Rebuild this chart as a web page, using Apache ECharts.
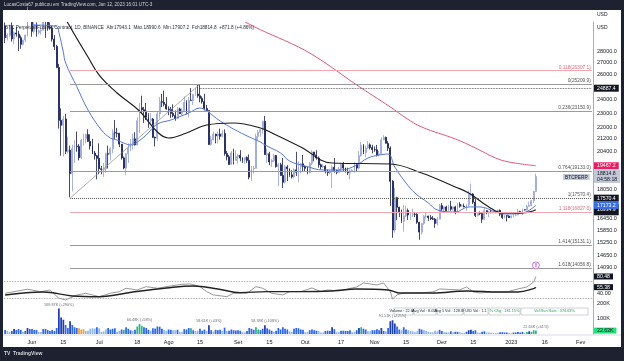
<!DOCTYPE html>
<html><head><meta charset="utf-8">
<script src="https://cdn.jsdelivr.net/npm/echarts@6/dist/echarts.min.js"></script>
<style>html,body{margin:0;padding:0;background:#1d2130}#c{width:624px;height:361px}</style>
</head><body><div id="c"></div>
<script>
// ---------- categories (daily, 2022-05-20 .. 2023-02-06) ----------
const dates = [];
(function(){const t0=Date.UTC(2022,4,20);for(let i=0;i<263;i++){dates.push(new Date(t0+i*864e5).toISOString().slice(0,10));}})();

// ---------- price candles [open, high, low, close] ----------
const ohlcMay = [[30300,30650,28700,29200],[29200,29600,28950,29430],[29430,30450,29250,30280],[30280,30650,28850,29100],[29100,29800,28600,29650],[29650,30200,29300,29540],[29540,29850,28000,29200],[29200,29400,28200,28600],[28600,29000,28500,29000],[29000,29500,28800,29450],[29450,32200,29300,31700],[31700,32400,31200,31800]];
const ohlcJun = [[31800,31950,29300,29800],[29800,30650,29600,30450],[30450,30650,29300,29700],[29700,29950,29500,29850],[29850,30150,29500,29900],[29900,31750,29900,31350],[31350,31550,29200,31100],[31100,31300,29850,30200],[30200,30650,29950,30100],[30100,30350,28850,29070],[29070,29450,28100,28400],[28400,28550,26550,26570],[26570,26880,21900,22480],[22480,23350,20100,22130],[22130,22800,20050,22580],[22580,22950,20200,20380],[20380,21350,20250,20450],[20450,20750,17620,18990],[18990,20800,17950,20550],[20550,21100,19650,20720],[20720,21700,20350,20700],[20700,20850,19800,19970],[19970,21200,19900,21100],[21100,21550,20750,21230],[21230,21550,20900,21500],[21500,21850,21000,21030],[21030,21500,20500,20730],[20730,21200,20200,20270],[20270,20400,19850,20100],[20100,20150,18650,19930]];
const ohlcJul = [[19930,20900,18950,19290],[19290,19450,18950,19240],[19240,19650,18800,19300],[19300,20300,19050,20230],[20230,20750,19300,20190],[20190,20650,19800,20550],[20550,21850,20250,21620],[21620,22500,21200,21590],[21590,21950,21300,21580],[21580,21600,20650,20850],[20850,20850,19850,19960],[19960,20050,19250,19330],[19330,20250,18900,20220],[20220,20900,19650,20580],[20580,21200,20400,20830],[20830,21550,20500,21200],[21200,21650,20750,20800],[20800,22700,20750,22450],[22450,23750,21600,23400],[23400,24300,23000,23250],[23250,23450,22300,23150],[23150,23750,22500,22700],[22700,23000,21950,22450],[22450,23000,22300,22580],[22580,22650,21250,21300],[21300,21350,20700,21250],[21250,23100,21050,22950],[22950,24200,22600,23850],[23850,24450,23450,23800],[23800,24700,23500,23650],[23650,24200,23250,23300]];
const ohlcAug = [[23300,23500,22850,23270],[23270,23450,22650,22980],[22980,23650,22700,22820],[22820,23200,22450,22620],[22620,23450,22600,23310],[23310,23400,22950,22960],[22960,23350,22850,23170],[23170,24250,23150,23810],[23810,23950,22900,23150],[23150,24200,22700,23950],[23950,24900,23900,23930],[23930,24450,23600,24400],[24400,24900,24300,24440],[24440,25210,24150,24300],[24300,25200,23800,24100],[24100,24250,23700,23850],[23850,24450,23200,23340],[23340,23600,23100,23190],[23190,23200,20800,20830],[20830,21400,20750,21140],[21140,21700,21100,21520],[21520,21550,20900,21400],[21400,21700,20900,21530],[21530,21900,21150,21370],[21370,21800,21300,21560],[21560,21850,20100,20240],[20240,20400,19800,20030],[20030,20150,19550,19550],[19550,20400,19550,20280],[20280,20550,19550,19800],[19800,20450,19800,20050]];
const ohlcSep = [[20050,20200,19600,20130],[20130,20450,19750,19950],[19950,20000,19650,19830],[19830,20000,19600,19990],[19990,20050,19650,19800],[19800,20180,18650,18780],[18780,19450,18550,19290],[19290,19450,19000,19310],[19310,21550,19300,21360],[21360,21800,21100,21650],[21650,21800,21350,21830],[21830,22450,21550,22400],[22400,22800,20150,20170],[20170,20550,19650,20220],[20220,20350,19500,19700],[19700,19900,19400,19800],[19800,20200,19700,20110],[20110,20150,19350,19420],[19420,19650,18250,19530],[19530,19650,18900,18880],[18880,19950,18150,18480],[18480,19500,18400,19400],[19400,19500,18550,19290],[19290,19300,18800,18920],[18920,19200,18700,18800],[18800,19300,18700,19220],[19220,20350,18850,19080],[19080,19750,18500,19410],[19410,19650,19000,19590],[19590,20150,19150,19420]];
const ohlcOct = [[19420,19480,19150,19310],[19310,19400,18950,19050],[19050,19700,19000,19620],[19620,20450,19500,20330],[20330,20350,19750,20150],[20150,20450,19850,19950],[19950,20050,19350,19530],[19530,19600,19250,19410],[19410,19550,19320,19440],[19440,19500,19000,19130],[19130,19250,18850,19050],[19050,19200,18950,19150],[19150,19500,18150,19380],[19380,19950,19050,19180],[19180,19230,18950,19070],[19070,19400,19050,19260],[19260,19650,19150,19550],[19550,19700,19100,19330],[19330,19350,19050,19120],[19120,19350,18900,19040],[19040,19250,18650,19160],[19160,19250,19100,19200],[19200,19700,19050,19570],[19570,19600,19150,19330],[19330,20400,19250,20090],[20090,21000,20050,20770],[20770,20850,20200,20300],[20300,20750,20000,20600],[20600,21050,20550,20800],[20800,20900,20500,20630],[20630,20800,20250,20490]];
const ohlcNov = [[20490,20700,20350,20480],[20480,20800,20050,20150],[20150,20400,20050,20200],[20200,21300,20200,21140],[21140,21450,21100,21300],[21300,21350,20900,20900],[20900,21050,20400,20590],[20590,20700,17150,18540],[18540,18600,15500,15880],[15880,18150,15750,17600],[17600,17650,16400,17070],[17070,17100,16550,16800],[16800,16950,16250,16330],[16330,17200,15800,16610],[16610,17150,16550,16900],[16900,17000,16400,16660],[16660,16750,16400,16690],[16690,17000,16550,16700],[16700,16800,16550,16690],[16690,16750,16200,16280],[16280,16300,15400,15780],[15780,16250,15650,16220],[16220,16650,16150,16600],[16600,16800,16450,16600],[16600,16620,16350,16520],[16520,16650,16400,16460],[16460,16600,16400,16440],[16440,16500,16000,16220],[16220,16550,16100,16440],[16440,17250,16430,17160]];
const ohlcDec = [[17160,17300,16850,16980],[16980,17100,16800,17090],[17090,17150,16850,16890],[16890,17200,16880,17110],[17110,17420,16880,16970],[16970,17100,16900,17090],[17090,17150,16700,16840],[16840,17300,16750,17230],[17230,17350,17050,17130],[17130,17230,17100,17130],[17130,17270,17070,17090],[17090,17250,16880,17210],[17210,18000,17080,17780],[17780,18400,17650,17800],[17800,17850,17250,17350],[17350,17550,16550,16630],[16630,16800,16580,16780],[16780,16850,16650,16740],[16740,16820,16250,16440],[16440,17050,16400,16890],[16890,16900,16700,16820],[16820,16870,16550,16820],[16820,16950,16750,16780],[16780,16860,16760,16830],[16830,16870,16730,16830],[16830,16950,16770,16910],[16910,16950,16600,16700],[16700,16780,16450,16530],[16530,16650,16480,16620],[16620,16650,16320,16600],[16600,16650,16500,16520]];
const ohlcJan = [[16520,16630,16480,16610],[16610,16780,16540,16660],[16660,16750,16600,16660],[16660,16980,16650,16840],[16840,16880,16730,16820],[16820,17000,16650,16940],[16940,16960,16900,16930],[16930,17200,16900,17120],[17120,17380,17100,17170],[17170,17480,17130,17430],[17430,17990,17300,17940],[17943.1,18990.6,17907.2,18814.8]];

// ---------- moving averages [date, value] ----------
const ma20 = [['2022-06-01',30400],['2022-06-09',30350],['2022-06-12',30240],['2022-06-13',29700],['2022-06-15',27900],['2022-06-16',26960],['2022-06-21',25007],['2022-06-26',23229],['2022-07-02',21803],['2022-07-06',21258],['2022-07-09',21123],['2022-07-12',20924],['2022-07-15',20792],['2022-07-18',20990],['2022-07-22',21459],['2022-07-27',22220],['2022-08-02',22504],['2022-08-10',23010],['2022-08-15',23375],['2022-08-18',23156],['2022-08-24',22434],['2022-08-30',21870],['2022-09-06',21325],['2022-09-11',20990],['2022-09-13',20792],['2022-09-20',20272],['2022-09-24',19765],['2022-10-01',19455],['2022-10-09',19210],['2022-10-17',19210],['2022-10-24',19516],['2022-10-29',19953],['2022-11-03',20140],['2022-11-07',20206],['2022-11-10',19393],['2022-11-15',18435],['2022-11-19',17859],['2022-11-25',17305],['2022-11-29',16923],['2022-12-07',16817],['2022-12-13',17089],['2022-12-18',17089],['2022-12-25',16817],['2022-12-29',16711],['2023-01-06',16764],['2023-01-12',17173.2]];
const ma50 = [['2022-06-15',31480],['2022-06-17',30600],['2022-06-26',27473],['2022-07-01',25950],['2022-07-09',24515],['2022-07-19',23156],['2022-07-27',21666],['2022-08-01',21258],['2022-08-09',21597],['2022-08-18',22150],['2022-08-30',22290],['2022-09-11',21941],['2022-09-18',21459],['2022-09-29',20661],['2022-10-13',19640],['2022-11-08',19578],['2022-11-22',19029],['2022-12-07',18205],['2022-12-13',17859],['2022-12-22',17089],['2022-12-28',16764],['2023-01-06',16764],['2023-01-12',16934.9]];
const ma200 = [['2022-08-25',32300],['2022-09-05',30600],['2022-09-28',28356],['2022-10-08',27212],['2022-10-24',25143],['2022-11-08',23451],['2022-11-15',22646],['2022-11-22',22010],['2022-12-07',21192],['2022-12-16',20597],['2022-12-25',19953],['2022-12-31',19702],['2023-01-12',19467.2]];

// ---------- RSI pane ----------
const rsi = [['2022-05-20',41],['2022-05-30',50.5],['2022-06-05',44.8],['2022-06-09',48.8],['2022-06-13',29.3],['2022-06-16',25.3],['2022-06-21',37],['2022-06-25',41],['2022-07-01',33],['2022-07-06',41],['2022-07-10',44.8],['2022-07-13',52.8],['2022-07-18',48.8],['2022-07-22',56.6],['2022-07-27',52.8],['2022-08-02',58.2],['2022-08-07',62.2],['2022-08-11',62.9],['2022-08-15',56.6],['2022-08-18',44.8],['2022-08-21',37.1],['2022-08-27',33],['2022-08-30',41],['2022-09-05',41],['2022-09-09',56.6],['2022-09-12',52.8],['2022-09-16',41],['2022-09-21',37.1],['2022-09-24',44.8],['2022-09-29',44.8],['2022-10-04',53.5],['2022-10-08',44.8],['2022-10-11',48.8],['2022-10-16',46.5],['2022-10-24',55.9],['2022-10-27',65.3],['2022-11-02',60.6],['2022-11-05',65.3],['2022-11-08',44.1],['2022-11-09',27.6],['2022-11-11',37.1],['2022-11-14',41.8],['2022-11-21',41.8],['2022-11-27',44.1],['2022-11-30',51.2],['2022-12-09',48.8],['2022-12-12',55.9],['2022-12-15',44.1],['2022-12-18',41.8],['2022-12-24',44.1],['2022-12-30',44.1],['2023-01-04',51.2],['2023-01-08',55.9],['2023-01-11',67.6],['2023-01-12',80.48]];
const rsiMa = [['2022-05-20',37.1],['2022-06-06',44.1],['2022-06-19',34.7],['2022-07-01',33],['2022-07-16',44.1],['2022-07-31',53.5],['2022-08-12',58.2],['2022-08-23',51.2],['2022-09-02',42.5],['2022-09-14',44.8],['2022-09-29',44.8],['2022-10-13',46.5],['2022-10-24',51],['2022-11-07',48.8],['2022-11-12',41.8],['2022-11-27',41.8],['2022-12-12',46.5],['2022-12-27',44.1],['2023-01-04',44.1],['2023-01-11',52],['2023-01-12',55.38]];

// ---------- volume (K) ----------
const volMay = [27,20,13,20,33,27,33,27,13,20,40,33];
const volJun = [33,27,27,13,13,33,33,27,20,27,20,40,169.87,110,95,60,40,85,60,45,40,38,30,32,20,22,35,38,36,45];
const volJul = [38,15,18,32,40,30,35,38,15,20,30,28,45,35,25,22,28,50,66.48,55,45,40,28,22,38,36,50,48,35,25,22];
const volAug = [30,28,25,25,28,12,15,32,30,40,38,25,20,22,35,22,30,20,58.61,25,18,28,25,28,20,42,20,22,30,25,24];
const volSep = [25,22,12,12,20,40,35,28,45,30,25,35,58.38,38,30,22,15,22,40,30,45,35,30,18,15,35,40,38,30,28];
const volOct = [12,14,25,30,25,22,20,10,10,20,22,20,45,32,12,12,22,22,20,20,25,12,15,25,40,45,35,30,18,18,25];
const volNov = [25,32,25,40,20,18,40,85,91.51,70,50,30,25,45,30,25,20,18,12,18,35,30,25,20,15,12,10,22,18,28];
const volDec = [20,12,10,10,18,12,15,15,12,8,8,15,25,28,20,25,10,8,15,18,10,10,8,5,6,8,12,12,10,10,6];
const volJan = [5,10,10,14,10,14,6,14,18,14,25,22.63];
const greenDays = ['2022-07-12','2022-07-18','2022-07-19','2022-07-20','2022-08-11','2022-09-09','2022-09-10','2022-10-26','2022-12-03','2023-01-08','2023-01-10','2023-01-11','2023-01-12'];
const orangeDays = ['2022-06-22','2022-06-23','2022-06-24'];
const volNotes = [['2022-06-13',169.87,'169.87K (+290%)'],['2022-07-19',66.48,'66.48K (+58%)'],['2022-08-19',58.61,'58.61K (+43%)'],['2022-09-13',58.38,'58.38K (+108%)'],['2022-11-09',91.51,'91.51K (+225%)'],['2023-01-12',22.63,'22.63K (+61%)']];

// ---------- fib retracement ----------
const fibStart = '2022-06-18', fibEnd = '2022-08-15';
const fibRatios = ['0.118','0','0.236','0.764','1','1.118','1.414','1.618'];
const fibPrices = [26307.1,25209.9,23150.9,19133.0,17570.4,16827.6,15131.1,14056.8];
const hiLine = 24887.4;

// ---------- axis ticks / boxes ----------
const priceTicks = [28000,27000,26000,24000,23000,22000,21200,20400,18050,16450,15850,15250,14650,14090];
const priceBoxes = [24887.4,19467.2,18814.8,17570.4,16934.9,17173.2];
const rsiBoxes = [80.48,55.38];
const tickDates = ['2022-06-01','2022-06-15','2022-07-01','2022-07-18','2022-08-01','2022-08-15','2022-09-01','2022-09-15','2022-10-01','2022-10-17','2022-11-01','2022-11-15','2022-12-01','2022-12-15','2023-01-01','2023-01-16','2023-02-01'];
const tickTexts = ['Jun','15','Jul','18','Ago','15','Set','15','Out','17','Nov','15','Dez','15','2023','16','Fev'];
const tableCells = ['Volume : 22.63K','Avg Vol : 8.05K','Avg 5 Vol : 128.8K','U/D Vol : 1.1','% Chg : 181.15%','Vol Run Rate : 374.63%'];

// ================= build =================
const ohlc = [].concat(ohlcMay,ohlcJun,ohlcJul,ohlcAug,ohlcSep,ohlcOct,ohlcNov,ohlcDec,ohlcJan);
const vols = [].concat(volMay,volJun,volJul,volAug,volSep,volOct,volNov,volDec,volJan);
const FONT = 'Liberation Sans';
const lastDate = dates[dates.length-1];
const HIDDEN = {width:0, color:'rgba(0,0,0,0)'};

const candleData = ohlc.map(r=>[r[0],r[3],r[2],r[1]]);
const volData = vols.map((v,i)=>{
  const d = dates[i];
  let c;
  if (greenDays.indexOf(d)>=0) c = '#2bb58a';
  else if (orangeDays.indexOf(d)>=0) c = '#f0a030';
  else {
    let s=0,n=0; for(let k=Math.max(0,i-20);k<i;k++){s+=vols[k];n++;}
    const avg = n? s/n : v;
    c = v>avg*1.6 ? '#1f3fb0' : (v>avg*0.75 ? '#2f67e6' : '#8fb6f2');
  }
  return {value:v, itemStyle:{color:c}};
});

const fibColor = r => (r==='0.118'||r==='1.118') ? '#f2a7b0' : (r==='1' ? '#555' : '#9a9a9a');
const fibLabelColor = r => (r==='0.118'||r==='1.118') ? '#e36d7f' : '#555';
const fibLines = fibRatios.map((r,k)=>[
  {coord:[fibStart,fibPrices[k]], lineStyle:{color:fibColor(r), width:1, type: r==='1'?'dotted':'solid'},
   label:{show:true, position:'insideEndTop', distance:1, formatter:r+'('+fibPrices[k].toFixed(1)+')', color:fibLabelColor(r), fontSize:4.8, fontFamily:FONT}},
  {coord:[lastDate,fibPrices[k]]}
]);
fibLines.push([{coord:[fibStart,fibPrices[4]], lineStyle:{color:'#8a8a8a', width:0.7, type:'solid'}, label:{show:false}},{coord:[fibEnd,fibPrices[1]]}]);
fibLines.push([{coord:[fibEnd,hiLine], lineStyle:{color:'#444', width:0.8, type:'dotted'}, label:{show:false}},{coord:[lastDate,hiLine]}]);

const boxStyle = [['#131722','#fff'],['#e91e63','#fff'],['#c2c8d8','#131722'],['#131722','#fff'],['#131722','#fff'],['#3a6ee8','#fff']];
const boxLines = priceBoxes.map((v,k)=>({
  yAxis:v, lineStyle:HIDDEN,
  label:{show:true, position:'end', distance:1,
    formatter: k===2 ? v.toFixed(1)+'\n04:58:18' : v.toFixed(1),
    backgroundColor:boxStyle[k][0], color:boxStyle[k][1], padding: k===4?[5,3,0,3]:[1,3,0,3],
    fontSize:5.2, fontFamily:FONT, lineHeight:6}
}));

const lab = {fontSize:5.5, color:'#131722', fontFamily:FONT};
const option = {
  backgroundColor:'#1d2130',
  animation:false,
  graphic:[
    {type:'rect', shape:{x:3,y:10,width:618,height:337}, style:{fill:'#ffffff'}, z:-10, silent:true},
    {type:'rect', shape:{x:3,y:10,width:590,height:12}, style:{fill:'#ffffff'}, z:45, silent:true},
    {type:'text', x:4, y:2.5, style:{text:'LucasCosta67 publicou em TradingView.com, Jan 12, 2023 16:01 UTC-3', fill:'#d1d4dc', font:'4.6px '+FONT}},
    {type:'text', x:5, y:25.5, z:50, style:{text:'BTC Perpetual Futures Contract, 1D, BINANCE  Abr17943.1  Máx.18990.6  Mín.17907.2  Fch18814.8  +871.8 (+4.86%)', fill:'#2a2e39', font:'4.7px '+FONT}},
    {type:'text', x:597, y:12, style:{text:'USD', fill:'#131722', font:'5px '+FONT}},
    {type:'text', x:597, y:25, style:{text:'USD', fill:'#131722', font:'5px '+FONT}},
    {type:'text', x:563, y:174, z:60, style:{text:'BTCPERP', fill:'#131722', font:'4.8px '+FONT, backgroundColor:'#c2c8d8', padding:[1,2,0,2]}},
    {type:'text', x:13, y:351.5, style:{text:'TradingView', fill:'#d1d4dc', font:'bold 5px '+FONT}},
    {type:'text', x:4, y:351.5, style:{text:'TV', fill:'#d1d4dc', font:'bold 5px '+FONT}},
    {type:'line', shape:{x1:3,y1:335,x2:621,y2:335}, style:{stroke:'#d0d3da', lineWidth:0.8}, silent:true}
  ].concat(tableCells.map((t,k)=>{
      const xs=[394,414,437,464,489,521,589];
      return {type:'group', z:40, children:[
        {type:'rect', shape:{x:xs[k],y:308,width:xs[k+1]-xs[k]-1,height:7}, style:{fill:'#fff', stroke:'#9aa0ae', lineWidth:0.5}},
        {type:'text', x:(xs[k]+xs[k+1])/2-0.5, y:309.3, style:{text:t, fill: k>=4?'#2a9d55':'#2a2e39', font:'3.8px '+FONT, align:'center'}}
      ]};
  })),
  grid:[
    {left:4, width:589, top:22, height:250},
    {left:4, width:589, top:268.2, height:34},
    {left:4, width:589, top:302, height:32}
  ],
  xAxis:[0,1,2].map(g=>({
    type:'category', gridIndex:g, data:dates, boundaryGap:true,
    axisLine:{show:false}, axisTick:{show:false}, splitLine:{show:false},
    axisLabel: g===2 ? {show:true, ...lab, margin:5, interval:(i,v)=>tickDates.indexOf(v)>=0, formatter:(v)=>tickTexts[tickDates.indexOf(v)]} : {show:false}
  })),
  yAxis:[
    {gridIndex:0, type:'log', logBase:10, min:13907, max:30693, position:'right',
     axisLine:{show:true, lineStyle:{color:'#9598a1', width:0.8}}, axisTick:{show:false}, splitLine:{show:false},
     axisLabel:{...lab, margin:4, customValues:priceTicks, formatter:v=>Number(v).toFixed(1)}},
    {gridIndex:1, type:'value', min:20, max:100, position:'right',
     axisLine:{show:true, lineStyle:{color:'#9598a1', width:0.8}}, axisTick:{show:false}, splitLine:{show:false},
     axisLabel:{...lab, margin:4, customValues:[40], formatter:v=>Number(v).toFixed(2)}},
    {gridIndex:2, type:'value', min:0, max:213, position:'right',
     axisLine:{show:true, lineStyle:{color:'#9598a1', width:0.8}}, axisTick:{show:false}, splitLine:{show:false},
     axisLabel:{...lab, margin:4, customValues:[100,200], formatter:v=>v+'K'}}
  ],
  series:[
    {type:'candlestick', xAxisIndex:0, yAxisIndex:0, data:candleData, barWidth:'62%', clip:true,
     itemStyle:{color:'#c8d0ee', color0:'#141c50', borderColor:'#93a0d2', borderColor0:'#141c50', borderWidth:0.8},
     markLine:{silent:true, symbol:'none', animation:false, data: fibLines.concat(boxLines)},
     markPoint:{silent:true, data:[{coord:['2023-01-12',14200], symbol:'circle', symbolSize:7, itemStyle:{color:'#fff', borderColor:'#b455d9', borderWidth:0.8}, label:{show:true, formatter:'8', color:'#b455d9', fontSize:4.5, fontFamily:FONT}}]}},
    {type:'line', name:'MA20', xAxisIndex:0, yAxisIndex:0, data:ma20, smooth:0.4, symbol:'none', clip:true, lineStyle:{color:'#5677d9', width:1}},
    {type:'line', name:'MA50', xAxisIndex:0, yAxisIndex:0, data:ma50, smooth:0.4, symbol:'none', clip:true, lineStyle:{color:'#1f1f1f', width:1.2}},
    {type:'line', name:'MA200', xAxisIndex:0, yAxisIndex:0, data:ma200, smooth:0.4, symbol:'none', clip:true, lineStyle:{color:'#e0587a', width:1}},
    {type:'line', name:'RSI', xAxisIndex:1, yAxisIndex:1, data:rsi, symbol:'none', clip:false, lineStyle:{color:'#6b6b6b', width:0.7},
     markLine:{silent:true, symbol:'none', data:[
       {yAxis:70, lineStyle:{color:'#9a9a9a', type:'dotted', width:0.8}, label:{show:false}},
       {yAxis:30, lineStyle:{color:'#9a9a9a', type:'dotted', width:0.8}, label:{show:false}}
     ].concat(rsiBoxes.map(v=>({yAxis:v, lineStyle:HIDDEN, label:{show:true, position:'end', distance:1, formatter:v.toFixed(2), backgroundColor:'#131722', color:'#fff', padding:[1,3,0,3], fontSize:5.2, fontFamily:FONT}})))}},
    {type:'line', name:'RSI MA', xAxisIndex:1, yAxisIndex:1, data:rsiMa, smooth:0.4, symbol:'none', lineStyle:{color:'#222', width:1.4}},
    {type:'bar', name:'Volume', xAxisIndex:2, yAxisIndex:2, data:volData, barWidth:'78%',
     markLine:{silent:true, symbol:'none', data:[{yAxis:22.63, lineStyle:HIDDEN, label:{show:true, position:'end', distance:1, formatter:'22.63K', backgroundColor:'#22e07a', color:'#131722', padding:[1,3,0,3], fontSize:5.2, fontFamily:FONT}}]},
     markPoint:{silent:true, symbol:'circle', symbolSize:1, itemStyle:{color:'rgba(0,0,0,0)'},
       label:{show:true, position:'top', distance:1.5, formatter:'{b}', color:'#6a6d78', fontSize:3.8, fontFamily:FONT},
       data:volNotes.map(n=>({coord:[n[0],n[1]], name:n[2]}))}}
  ]
};
const chart = echarts.init(document.getElementById('c'));
chart.setOption(option);
</script></body></html>
